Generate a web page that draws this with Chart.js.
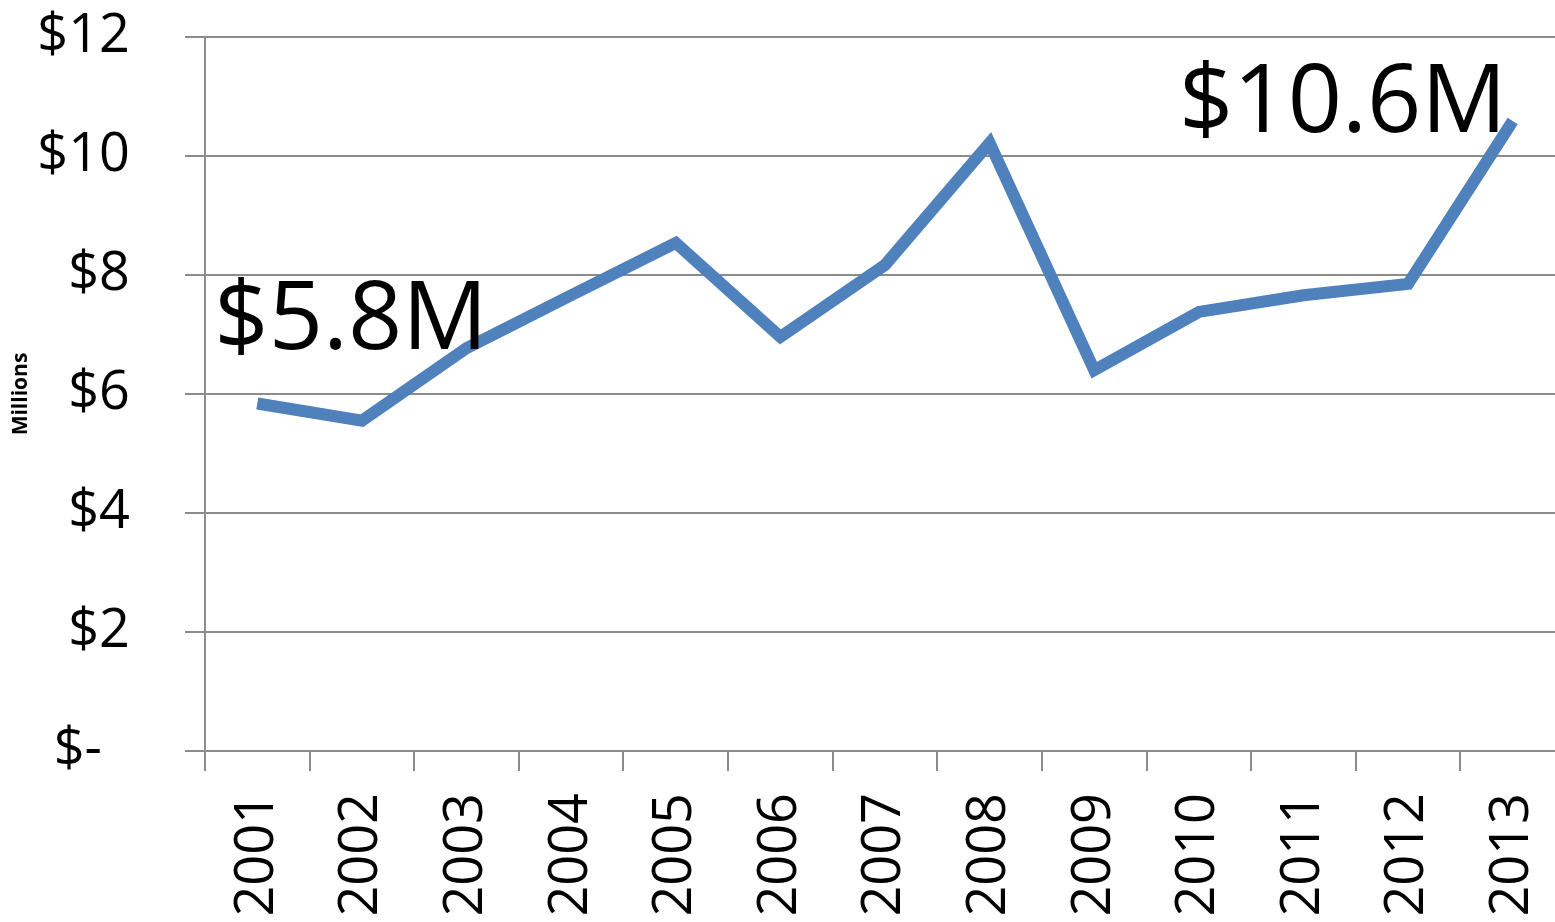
<!DOCTYPE html>
<html>
<head>
<meta charset="utf-8">
<script src="https://cdn.jsdelivr.net/npm/chart.js@4.4.1/dist/chart.umd.min.js"></script>
<style>
  html, body { margin: 0; padding: 0; background: #fff; overflow: hidden; }
  #wrap { width: 1566px; height: 930px; }
</style>
</head>
<body>
<div id="wrap"><canvas id="revenue" width="1566" height="930"></canvas></div>
<script>
const years = ['2001', '2002', '2003', '2004', '2005', '2006', '2007', '2008', '2009', '2010', '2011', '2012', '2013']
const revenue = [5.84, 5.55, 6.77, 7.66, 8.54, 6.96, 8.17, 10.22, 6.40, 7.38, 7.66, 7.85, 10.59]
const yTicks = [0, 2, 4, 6, 8, 10, 12]
const callouts = [
  { index: 0, text: '$5.8M', align: 'left', dx: -43, dy: -55 },
  { index: 12, text: '$10.6M', align: 'right', dx: -6, dy: 11 }
]

const font = "'Open Sans', 'DejaVu Sans', sans-serif"
const gridGrey = '#8c8c8c'

// big labels next to the first and last year
const calloutPlugin = {
  id: 'callouts',
  afterDatasetsDraw(chart) {
    const ctx = chart.ctx
    const pts = chart.getDatasetMeta(0).data
    ctx.save()
    ctx.fillStyle = '#000'
    ctx.font = `95px ${font}`
    ctx.textBaseline = 'alphabetic'
    for (const c of callouts) {
      const p = pts[c.index]
      ctx.textAlign = c.align
      ctx.fillText(c.text, p.x + c.dx, p.y + c.dy)
    }
    ctx.restore()
  }
}

const ctx = document.getElementById('revenue')

new Chart(ctx, {
  type: 'line',
  data: {
    labels: years,
    datasets: [{
      data: revenue,
      borderColor: '#4F81BD',
      borderWidth: 12,
      pointRadius: 0,
      tension: 0,
      borderCapStyle: 'butt',
      borderJoinStyle: 'miter'
    }]
  },
  options: {
    responsive: false,
    animation: false,
    layout: { padding: { top: 37, left: 0, right: 1, bottom: 0 } },
    plugins: {
      legend: { display: false },
      tooltip: { enabled: false }
    },
    scales: {
      x: {
        offset: true,
        grid: {
          offset: true,
          drawOnChartArea: false,
          drawTicks: true,
          tickLength: 20,
          color: gridGrey,
          lineWidth: 2
        },
        border: { color: gridGrey, width: 2 },
        ticks: {
          minRotation: 90,
          maxRotation: 90,
          padding: 22,
          color: '#000',
          font: { family: font, size: 54 }
        },
        afterFit(scale) {
          scale.height = 930 - 751
          scale.paddingLeft = 0
          scale.paddingRight = 0
        }
      },
      y: {
        min: 0,
        max: 12,
        afterBuildTicks(scale) { scale.ticks = yTicks.map(v => ({ value: v })) },
        grid: {
          color: gridGrey,
          lineWidth: 2,
          tickLength: 20
        },
        border: { color: gridGrey, width: 2 },
        ticks: {
          padding: 55,
          color: '#000',
          font: { family: font, size: 54 },
          callback: v => v === 0 ? '$-  ' : '$' + v
        },
        title: {
          display: true,
          text: 'Millions',
          color: '#000',
          font: { family: font, size: 21, weight: 'bold' },
          padding: { top: 8, bottom: 0 }
        },
        afterFit(scale) {
          scale.width = 205
          scale.paddingTop = 0
          scale.paddingBottom = 0
        }
      }
    }
  },
  plugins: [calloutPlugin]
})
</script>
</body>
</html>
